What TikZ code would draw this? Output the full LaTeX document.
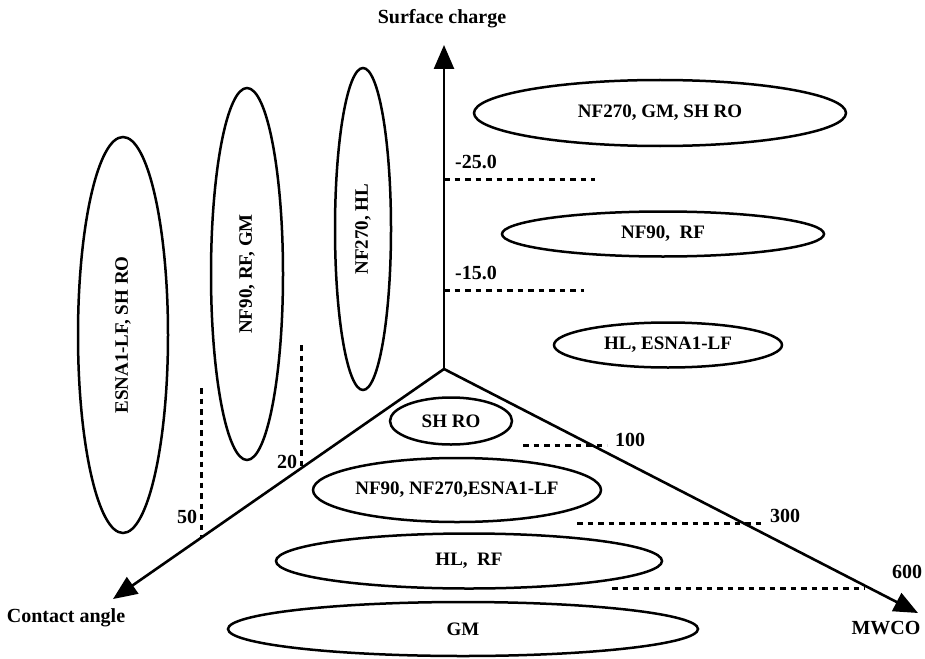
\documentclass[tikz,border=0pt]{standalone}
\usepackage{fontspec}
\setmainfont{Liberation Serif}
\usetikzlibrary{shapes.geometric,arrows.meta}
\begin{document}
\begin{tikzpicture}[x=1pt,y=-1pt,
  lbl/.style={font=\fontsize{20}{22}\selectfont\bfseries, inner sep=0pt},
  oval/.style={draw, ellipse, line width=2.5pt, inner sep=0pt, font=\fontsize{19}{21}\selectfont\bfseries},
  axis/.style={line width=2.6pt, -{Triangle[length=24pt,width=20pt]}},
  dotline/.style={line width=3pt, dash pattern=on 5.5pt off 5pt}]
\useasboundingbox (0,0) rectangle (925,658);
% axes
\coordinate (O) at (444,369);
\coordinate (sc) at (444,45);
\coordinate (ca) at (113,599);
\coordinate (mw) at (918,613);
\draw[axis] (O) -- (sc);
\draw[axis] (O) -- (ca);
\draw[axis] (O) -- (mw);
\node[lbl] (tsc) at (442,19) {Surface charge};
\node[lbl] (tca) at (66,618) {Contact angle};
\node[lbl] (tmw) at (886,628) {MWCO};
% surface charge ticks
\coordinate (s25a) at (444,179); \coordinate (s25b) at (595,179);
\coordinate (s15a) at (444,290); \coordinate (s15b) at (584,290);
\draw[dotline] (s25a) -- (s25b);
\draw[dotline] (s15a) -- (s15b);
\node[lbl] (l25) at (476,162) {-25.0};
\node[lbl] (l15) at (476,273) {-15.0};
% contact angle ticks
\coordinate (c50a) at (201,388); \coordinate (c50b) at (201,537);
\coordinate (c20a) at (301,345); \coordinate (c20b) at (301,467);
\draw[dotline] (c50a) -- (c50b);
\draw[dotline] (c20a) -- (c20b);
\node[lbl] (l50) at (187,517) {50};
\node[lbl] (l20) at (287,462) {20};
% MWCO ticks
\coordinate (m1a) at (523,445); \coordinate (m1b) at (607,445);
\coordinate (m3a) at (577,523); \coordinate (m3b) at (762,523);
\coordinate (m6a) at (612,588); \coordinate (m6b) at (865,588);
\draw[dotline] (m1a) -- (m1b);
\draw[dotline] (m3a) -- (m3b);
\draw[dotline] (m6a) -- (m6b);
\node[lbl] (l100) at (630,440) {100};
\node[lbl] (l300) at (785,516) {300};
\node[lbl] (l600) at (907,572) {600};
% right ellipses
\node[oval, minimum width=372pt, minimum height=66pt] (e1) at (660,113) {NF270, GM, SH RO};
\node[oval, minimum width=322pt, minimum height=45pt] (e2) at (663,234) {NF90,\ \ RF};
\node[oval, minimum width=228pt, minimum height=45pt] (e3) at (668,345) {HL, ESNA1-LF};
% left ellipses
\node[oval, rotate=90, minimum width=396pt, minimum height=90pt] (e4) at (123,335) {ESNA1-LF, SH RO};
\node[oval, rotate=90, minimum width=372pt, minimum height=72pt] (e5) at (247,274) {NF90, RF, GM};
\node[oval, rotate=90, minimum width=322pt, minimum height=56pt] (e6) at (363,229) {NF270, HL};
% bottom ellipses
\node[oval, minimum width=122pt, minimum height=47pt] (e7) at (451,421) {SH RO};
\node[oval, minimum width=288pt, minimum height=64pt] (e8) at (457,490) {NF90, NF270,ESNA1-LF};
\node[oval, minimum width=386pt, minimum height=55pt] (e9) at (469,561) {HL,\ \ RF};
\node[oval, minimum width=470pt, minimum height=54pt] (e10) at (463,629) {GM};
\end{tikzpicture}
\end{document}
